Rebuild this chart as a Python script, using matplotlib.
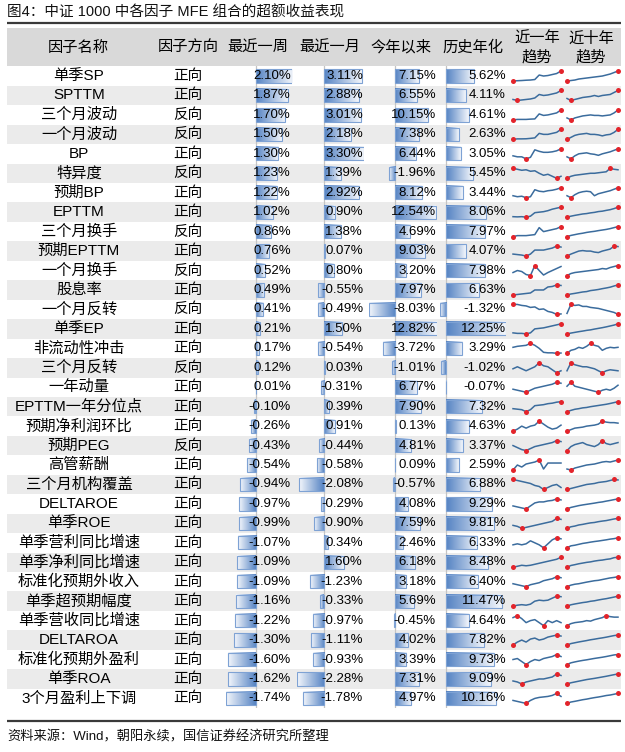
import numpy as np
import matplotlib
matplotlib.use('Agg')
import matplotlib.pyplot as plt
from matplotlib.patches import Rectangle
from matplotlib.colors import LinearSegmentedColormap

# ---------------- data ----------------
title = "图4：中证 1000 中各因子 MFE 组合的超额收益表现"
source = "资料来源：Wind，朝阳永续，国信证券经济研究所整理"
headers = ["因子名称", "因子方向", "最近一周", "最近一月", "今年以来", "历史年化", "近一年\n趋势", "近十年\n趋势"]

factor_names = ["单季SP", "SPTTM", "三个月波动", "一个月波动", "BP", "特异度", "预期BP", "EPTTM",
                "三个月换手", "预期EPTTM", "一个月换手", "股息率", "一个月反转", "单季EP", "非流动性冲击",
                "三个月反转", "一年动量", "EPTTM一年分位点", "预期净利润环比", "预期PEG", "高管薪酬",
                "三个月机构覆盖", "DELTAROE", "单季ROE", "单季营利同比增速", "单季净利同比增速",
                "标准化预期外收入", "单季超预期幅度", "单季营收同比增速", "DELTAROA", "标准化预期外盈利",
                "单季ROA", "3个月盈利上下调"]
directions = ["正向", "正向", "反向", "反向", "正向", "反向", "正向", "正向", "反向", "正向", "反向",
              "正向", "反向", "正向", "正向", "反向", "正向", "正向", "正向", "反向", "正向", "正向",
              "正向", "正向", "正向", "正向", "正向", "正向", "正向", "正向", "正向", "正向", "正向"]
week_ret = [2.10, 1.87, 1.70, 1.50, 1.30, 1.23, 1.22, 1.02, 0.86, 0.76, 0.52, 0.49, 0.41, 0.21, 0.17,
            0.12, 0.01, -0.10, -0.26, -0.43, -0.54, -0.94, -0.97, -0.99, -1.07, -1.09, -1.09, -1.16,
            -1.22, -1.30, -1.60, -1.62, -1.74]
month_ret = [3.11, 2.88, 3.01, 2.18, 3.30, 1.39, 2.92, 0.90, 1.38, 0.07, 0.80, -0.55, -0.49, 1.50, -0.54,
             0.03, -0.31, 0.39, 0.91, -0.44, -0.58, -2.08, -0.29, -0.90, 0.34, 1.60, -1.23, -0.33,
             -0.97, -1.11, -0.93, -2.28, -1.78]
ytd_ret = [7.15, 6.55, 10.15, 7.38, 6.44, -1.96, 8.12, 12.54, 4.69, 9.03, 3.20, 7.97, -8.03, 12.82, -3.72,
           -1.01, 6.77, 7.90, 0.13, 4.81, 0.09, -0.57, 4.08, 7.59, 2.46, 6.18, 3.18, 5.69, -0.45, 4.02,
           3.39, 7.31, 4.97]
hist_ann = [5.62, 4.11, 4.61, 2.63, 3.05, 5.45, 3.44, 8.06, 7.97, 4.07, 7.98, 6.63, -1.32, 12.25, 3.29,
            -1.02, -0.07, 7.32, 4.63, 3.37, 2.59, 6.88, 9.29, 9.81, 6.33, 8.48, 6.40, 11.47, 4.64, 7.82,
            9.73, 9.09, 10.16]

spark_1y = [
    [0, 0.3, 0.5, 0.8, 1, 1.5, 6, 5, 5.5, 6.5, 7.5, 10],
    [1, 0, 0.5, 1, 1.5, 2.5, 6, 5, 5.5, 6.5, 7.5, 10],
    [0, 0.5, 0.5, 0.5, 0.8, 1, 6, 4.5, 5, 6, 7, 10],
    [0, 0.5, 0.5, 0.6, 1, 1.5, 6, 5, 5, 6, 7, 10],
    [3, 2, 2, 0, 1.5, 9, 7.5, 6.5, 6.5, 7, 8, 10],
    [10, 9, 8, 8.5, 7, 7.5, 5, 3, 4, 2, 0, 2],
    [2, 1, 1.5, 0, 1, 8, 6.5, 6, 7, 7.5, 8.5, 10],
    [0.5, 0.3, 0.5, 0, 1, 4.5, 5, 5.5, 6.5, 8, 9, 10],
    [0, 1, 1, 1, 1.5, 2, 9, 5, 6, 7, 8, 10],
    [2, 1.5, 1, 0, 2, 6, 6, 6, 7, 8, 10, 9],
    [3, 5, 4, 1, 0, 10, 5, 0.5, 3, 5, 7, 9],
    [0, 0.5, 1, 1.5, 2, 5, 5, 5, 8, 8.5, 10, 9.5],
    [10, 10, 9, 8.5, 7, 7.5, 5, 5.5, 3, 2, 0, 0.5],
    [1, 0.5, 0.5, 0, 1, 5, 5.5, 6, 7, 8, 9, 10],
    [6, 7, 7.5, 8, 10, 8, 5, 1, 0.5, 0.5, 0, 0.3],
    [4, 6, 4, 2, 4, 6, 10, 7, 6, 3, 0, 2],
    [3, 2, 1, 0, 2, 4, 5, 6, 7, 8, 10, 9],
    [3, 2.5, 2, 0, 2, 6, 6.5, 7, 8, 8.5, 9.5, 10],
    [0, 2, 5, 3, 5, 6, 10, 7, 4, 2, 3, 6],
    [5, 3, 1, 0, 2, 4, 5, 6, 7, 8, 10, 9],
    [0, 5, 3, 6, 7, 8, 10, 1, 7, 7, 7, 7],
    [10, 9, 8, 7, 6, 4, 3, 0, 2, 4, 5, 2],
    [3, 2, 1, 0, 3, 6, 7, 7, 8, 8.5, 10, 9],
    [3, 2, 0, 1, 2, 3, 4, 5, 6, 7, 10, 9],
    [3, 4, 3, 4, 7, 5, 3, 0, 4, 8, 10, 9],
    [0, 1, 2, 1.5, 2, 3, 4, 5, 6, 7, 8, 10],
    [3, 2, 1, 0, 2, 3, 4, 6, 7, 8, 10, 9],
    [0, 1, 1.5, 1, 2, 5, 6, 5.5, 6, 8, 10, 9.5],
    [8, 10, 7, 3, 5, 6, 3, 0, 5, 3, 5, 3],
    [0, 3, 5, 3, 6, 7, 5, 6, 8, 9, 10, 9],
    [5, 6, 3, 0, 3, 5, 4, 6, 7, 8, 10, 8],
    [3, 2, 0, 2, 3, 4, 5, 5, 6, 7, 10, 8.5],
    [3, 2, 1, 0, 3, 5, 6, 6.5, 7, 8, 10, 7],
]
spark_10y = [
    [0, 0.5, 1, 2, 2.5, 3, 3.5, 4, 4.5, 5, 6, 7, 8.5, 10],
    [2, 0, 1, 2, 3, 3.5, 4, 5, 4, 5, 5.5, 6, 8, 10],
    [2, 0, 2, 3, 4, 4.5, 5, 4.5, 4.5, 4, 4.5, 5, 7, 10],
    [0, 2, 4, 5, 5.5, 6, 5, 5, 4.5, 3.5, 4.5, 5, 7, 10],
    [2, 0, 3, 5, 5.5, 6, 5, 4.5, 3.5, 5, 6, 7, 8.5, 10],
    [0, 2, 3, 3.5, 4, 4.5, 5, 5, 5.5, 6, 6.5, 10, 9, 8.5],
    [2, 0, 3, 5, 6, 6.5, 6, 2, 4, 5, 6, 7, 8.5, 10],
    [0, 1, 1.8, 2.5, 3.2, 3.6, 4.3, 4.8, 5.6, 6, 6.8, 7.5, 8.6, 10],
    [0, 1.2, 2, 2.8, 3.4, 4.2, 4.8, 5.3, 6, 6.6, 7.2, 8, 9, 10],
    [0, 2, 3.5, 5, 5.5, 5, 5, 4, 3.5, 5, 6, 7, 10, 9.5],
    [0, 2, 3, 3.5, 4, 4.5, 5, 5.5, 6, 7, 6.5, 8, 9, 10],
    [0, 1, 1.6, 2.3, 3, 3.4, 4.4, 4.9, 5.5, 6.3, 7, 7.8, 9, 10],
    [1, 10, 9, 9.5, 8, 8, 7, 6.5, 6, 5, 4, 3, 2, 0],
    [0, 0.8, 1.5, 2.2, 2.8, 3.5, 4, 4.8, 5.5, 6.2, 7, 7.9, 8.8, 10],
    [0, 3, 4, 6, 5, 7, 10, 8, 7, 3, 5, 6, 5.5, 6],
    [2, 10, 8, 7, 6, 6, 5, 4, 2, 0, 2, 3, 2.5, 2],
    [6, 10, 6, 5, 4, 3, 2, 1, 0, 2, 3, 2, 4, 7],
    [0, 1.3, 2.4, 3, 3.8, 4.2, 5, 5.6, 6.2, 6.8, 7.4, 8.2, 9.1, 10],
    [0, 1.5, 3, 3.5, 4, 5, 5.5, 6, 7, 10, 9, 8.5, 8.5, 8],
    [0, 4, 6, 7, 8, 6, 5, 4, 6, 10, 7, 6, 7, 8],
    [1, 0, 2, 3, 4, 5, 5.5, 6, 7, 8, 8.5, 8, 9, 10],
    [0, 1, 2, 3, 4, 5, 5.5, 6, 7, 7.5, 8, 9, 10, 9.5],
    [0, 1.5, 2.4, 3.3, 4, 4.6, 5.2, 5.8, 6.5, 7, 7.8, 8.5, 9.3, 10],
    [0, 1.6, 2.3, 3.4, 4, 4.8, 5.5, 5.9, 6.7, 7.3, 7.8, 8.6, 9.4, 10],
    [0, 2, 2.6, 3.5, 4.4, 5, 5.7, 6.3, 6.8, 7.4, 8, 8.7, 9.2, 10],
    [0, 1.8, 2.6, 3.5, 4.2, 4.9, 5.4, 6.2, 6.8, 7.2, 7.9, 8.4, 9.6, 10],
    [0, 1.6, 2.5, 3, 3.8, 4.6, 5.3, 6, 6.4, 7.2, 8, 8.8, 9.3, 10],
    [0, 1.4, 2.2, 2.9, 3.6, 4.1, 4.9, 5.4, 6.2, 6.9, 7.5, 8.3, 9.1, 10],
    [0, 2, 3, 3.5, 4, 5, 4.5, 6, 7, 8, 10, 9, 8.5, 8.5],
    [0, 1.5, 2.3, 3.1, 3.8, 4.5, 5.3, 5.9, 6.6, 7.2, 7.9, 8.7, 9.5, 10],
    [0, 1.7, 2.6, 3.4, 4.1, 4.7, 5.4, 6.1, 6.7, 7.3, 8, 8.8, 9.6, 10],
    [0, 1.2, 2, 2.8, 3.6, 4.4, 5, 5.6, 6.3, 7, 7.7, 8.5, 9.3, 10],
    [0, 1.4, 2.1, 2.9, 3.7, 4.3, 5.1, 5.8, 6.4, 7.1, 7.9, 8.4, 9.2, 10],
]

# ---------------- layout ----------------
W, H = 625, 752
fig = plt.figure(figsize=(W / 100, H / 100), dpi=100)
FAM = ['Liberation Sans', 'Noto Sans CJK SC']


def fax(x0, y0, x1, y1):
    return fig.add_axes([x0 / W, 1 - y1 / H, (x1 - x0) / W, (y1 - y0) / H])


ax0 = fax(0, 0, W, H)
ax0.set_xlim(0, W)
ax0.set_ylim(H, 0)
ax0.axis('off')

n = len(factor_names)
TX0, TX1 = 7, 621
HY0, HY1 = 28, 66.3
RY0 = 66.3
RH = 19.45
RY1 = RY0 + n * RH

# title and lines
ax0.text(TX0, 12.5, title, fontsize=10.5, family=FAM, va='center', ha='left', color='#111111')
ax0.plot([TX0, TX1], [23, 23], color='#3a3a3a', lw=1.6, solid_capstyle='butt')
ax0.plot([TX0, TX1], [721, 721], color='#3a3a3a', lw=1.6, solid_capstyle='butt')
ax0.text(TX0, 737, source, fontsize=9.5, family=FAM, va='center', ha='left', color='#111111')

# header
ax0.add_patch(Rectangle((TX0, HY0), TX1 - TX0, HY1 - HY0, color='#d9d9d9', lw=0))
hx = [78.5, 188, 258, 330, 401, 473, 537, 591]
for t, x in zip(headers, hx):
    if '\n' in t:
        a, b = t.split('\n')
        ax0.text(x, 38.5, a, fontsize=11, family=FAM, ha='center', va='center')
        ax0.text(x, 57, b, fontsize=11, family=FAM, ha='center', va='center')
    else:
        ax0.text(x, 47.5, t, fontsize=11, family=FAM, ha='center', va='center')

# stripes + text cols
for i in range(n):
    yc = RY0 + (i + 0.5) * RH
    if i % 2 == 1:
        ax0.add_patch(Rectangle((TX0, RY0 + i * RH), TX1 - TX0, RH, color='#ebebeb', lw=0))
    ax0.text(79, yc, factor_names[i], fontsize=11, family=FAM, ha='center', va='center')
    ax0.text(188, yc, directions[i], fontsize=10.5, family=FAM, ha='center', va='center')

cmap = LinearSegmentedColormap.from_list('db', ['#5583c3', '#f4f7fc'])
grad = np.linspace(0, 1, 128).reshape(1, -1)

cols = [(week_ret, 226, 292, 291), (month_ret, 297, 364, 363),
        (ytd_ret, 369, 437, 436), (hist_ann, 440, 506, 506)]
for vals, x0, x1, xr in cols:
    ax = fax(x0, RY0, x1, RY1)
    ax.patch.set_alpha(0)
    ax.axis('off')
    lo, hi = min(min(vals), 0), max(max(vals), 0)
    bh = 0.68
    for i, v in enumerate(vals):
        ax.imshow(grad, extent=[0, v, i + bh / 2, i - bh / 2], cmap=cmap, aspect='auto',
                  interpolation='bilinear', zorder=1)
    ax.barh(range(n), vals, height=bh, fill=False, edgecolor='#7ea2d4', lw=0.8, zorder=2)
    ax.axvline(0, color='#c4c4c4', lw=0.9, zorder=0.5)
    ax.set_xlim(lo, hi)
    ax.set_ylim(n - 0.5, -0.5)
    ax.set_autoscale_on(False)
    for i, v in enumerate(vals):
        ax.text((xr - x0) / (x1 - x0), i, f"{v:.2f}%", transform=ax.get_yaxis_transform(),
                fontsize=9.5, family='Liberation Sans', ha='right', va='center', zorder=3)

# sparklines
LINE = '#3b6c9d'
RED = '#e3242b'
for series, x0, x1 in [(spark_1y, 513, 561), (spark_10y, 567, 618)]:
    for i, s in enumerate(series):
        yc = RY0 + (i + 0.5) * RH
        ax = fax(x0, yc - 5, x1, yc + 5)
        ax.axis('off')
        ax.patch.set_alpha(0)
        s = np.asarray(s, dtype=float)
        xs = np.arange(len(s))
        ax.plot(xs, s, color=LINE, lw=1.1, clip_on=False, solid_joinstyle='round')
        k1, k2 = int(np.argmax(s)), int(np.argmin(s))
        ax.plot([xs[k1], xs[k2]], [s[k1], s[k2]], 'o', ms=3.6, color=RED, mec='none', clip_on=False)
        ax.set_xlim(0, len(s) - 1)
        ax.set_ylim(s.min(), s.max())

fig.savefig('out.png', dpi=100)
